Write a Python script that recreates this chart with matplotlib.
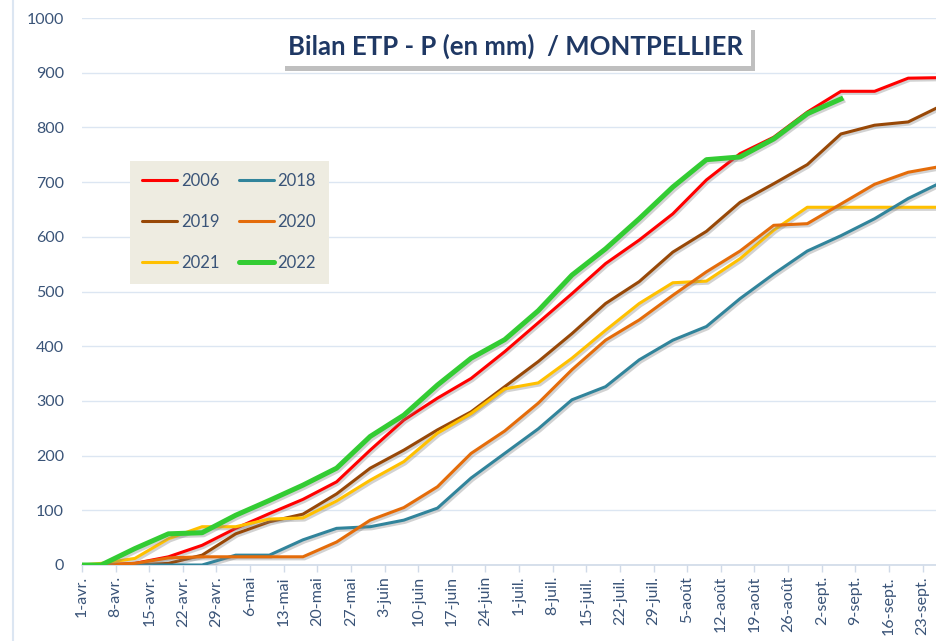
import matplotlib
matplotlib.use("Agg")
import matplotlib.pyplot as plt
import matplotlib.patheffects as pe
from matplotlib.lines import Line2D

plt.rcParams['font.family'] = ['Lato', 'DejaVu Sans']

# days after 1 April (first reading, then one per week)
days = [0] + [4 + 7 * k for k in range(26)]

tick_days = [7 * k for k in range(26)]
tick_labels = ["1-avr.", "8-avr.", "15-avr.", "22-avr.", "29-avr.", "6-mai",
               "13-mai", "20-mai", "27-mai", "3-juin", "10-juin", "17-juin",
               "24-juin", "1-juil.", "8-juil.", "15-juil.", "22-juil.",
               "29-juil.", "5-août", "12-août", "19-août", "26-août",
               "2-sept.", "9-sept.", "16-sept.", "23-sept."]

y2006 = [0, 0, 3, 15, 36, 67, 94, 120, 152, 210, 265, 305, 341, 390, 443,
         496, 551, 594, 642, 704, 752, 782, 828, 866, 866, 890, 891]
y2018 = [0, 0, 0, 0, 0, 18, 18, 46, 67, 70, 82, 104, 159, 204, 249,
         302, 326, 375, 411, 436, 487, 532, 574, 602, 633, 670, 700]
y2019 = [0, 0, 0, 3, 18, 57, 79, 93, 130, 177, 210, 247, 280, 326, 372,
         423, 478, 518, 572, 610, 663, 697, 732, 788, 804, 810, 840]
y2020 = [0, 0, 3, 13, 15, 15, 15, 15, 42, 82, 105, 143, 204, 245, 296,
         357, 411, 448, 493, 536, 574, 621, 624, 660, 696, 718, 729]
y2021 = [0, 3, 12, 48, 70, 70, 84, 86, 117, 155, 189, 241, 277, 322, 333,
         378, 429, 478, 516, 519, 560, 612, 654, 654, 654, 654, 654]
y2022 = [0, 0, 30, 57, 59, 91, 118, 146, 177, 235, 274, 329, 378, 412, 465,
         530, 578, 633, 691, 741, 746, 779, 825, 852]

text_col = "#3A5478"
grid_col = "#DCE6F2"

fig = plt.figure(figsize=(9.37, 6.41), dpi=100)
ax = fig.add_axes([82 / 937, 1 - 565 / 641, 1 - 82 / 937, (565 - 18) / 641])

shadow = [pe.SimpleLineShadow(offset=(1.2, -1.5), shadow_color="gray", alpha=0.35),
          pe.Normal()]

series = [("2006", y2006, "#FF0000", 2.2),
          ("2019", y2019, "#984807", 2.2),
          ("2021", y2021, "#FFC000", 2.2),
          ("2018", y2018, "#31849B", 2.2),
          ("2020", y2020, "#E46C0A", 2.2),
          ("2022", y2022, "#33CC33", 3.6)]

handles = []
for name, vals, col, lw in series:
    ax.plot(days[:len(vals)], vals, color=col, lw=lw, label=name,
            solid_joinstyle="round", path_effects=shadow, zorder=3)
    handles.append(Line2D([], [], color=col, lw=lw, solid_capstyle="round"))

ax.set_xlim(0, 178)
ax.set_ylim(0, 1000)
ax.set_yticks(range(0, 1001, 100))
ax.set_xticks(tick_days)
ax.set_xticklabels(tick_labels, rotation=90)
ax.grid(axis="y", color=grid_col, lw=1)
ax.set_axisbelow(True)
for s in ["top", "right", "left"]:
    ax.spines[s].set_visible(False)
ax.spines["bottom"].set_color("#D0DAE8")
ax.spines["bottom"].set_linewidth(1.2)
ax.tick_params(axis="y", length=0, pad=13, labelsize=11.5, labelcolor=text_col)
ax.tick_params(axis="x", length=5, width=1, color="#D0DAE8", pad=3,
               labelsize=11.5, labelcolor=text_col)

leg = ax.legend(handles, [s[0] for s in series], ncol=2, loc="upper left",
                bbox_to_anchor=(0.056, 0.739), borderaxespad=0,
                fontsize=12, labelcolor=text_col, handlelength=2.1,
                handletextpad=0.2, columnspacing=1.2, labelspacing=1.5,
                borderpad=0.75, fancybox=False, frameon=True)
leg.get_frame().set_facecolor("#EEECE1")
leg.get_frame().set_edgecolor("none")
leg.get_frame().set_alpha(1)

t = fig.text(516 / 937, 1 - 46 / 641, "Bilan ETP - P (en mm)  / MONTPELLIER",
             ha="center", va="center", fontsize=18.5, fontweight="bold",
             color="#1F3864",
             bbox=dict(boxstyle="square,pad=0.3", fc="white", ec="none"))
t.get_bbox_patch().set_path_effects(
    [pe.SimplePatchShadow(offset=(3, -3), shadow_rgbFace="gray", alpha=0.5),
     pe.Normal()])

fig.add_artist(Line2D([13 / 937, 13 / 937], [0, 1], color="#DCE6F2", lw=1.5))

fig.savefig("out.png", dpi=100)
